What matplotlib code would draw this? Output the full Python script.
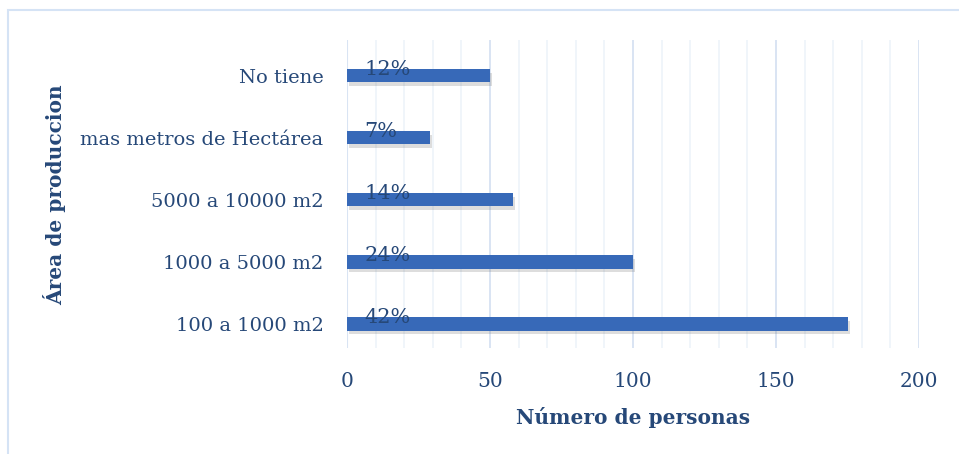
import matplotlib.pyplot as plt
import matplotlib.patheffects as pe
from matplotlib.patches import Rectangle
import numpy as np

# data
categories = ['100 a 1000 m2', '1000 a 5000 m2', '5000 a 10000 m2',
              'mas metros de Hectárea', 'No tiene']
personas = [175, 100, 58, 29, 50]
porcentajes = ['42%', '24%', '14%', '7%', '12%']
xticks = [0, 50, 100, 150, 200]

textColor = '#264878'
barColor = '#3769B8'

plt.rcParams['font.family'] = ['DejaVu Serif']

fig = plt.figure(figsize=(9.59, 4.54), dpi=100)
ax = fig.add_axes([347/959, 1-348/454, 572/959, 308/454])

# outer frame of the chart area (runs off the right and bottom edges)
fig.patches.append(Rectangle((8/959, -0.2), 1.2, 1.2-10/454, transform=fig.transFigure,
                             fill=False, edgecolor='#D5E3F5', linewidth=1.5))

ypos = np.arange(len(categories))
bars = ax.barh(ypos, personas, height=0.21, color=barColor, zorder=3)
for b in bars:
    b.set_path_effects([pe.SimplePatchShadow(offset=(1.5, -2.5), shadow_rgbFace='#666666', alpha=0.22),
                        pe.Normal()])

# percentage labels sit on the top edge of each bar
for y, p in zip(ypos, porcentajes):
    ax.text(6, y - 0.05, p, ha='left', va='bottom', fontsize=15, color=textColor, zorder=4)

ax.set_xlim(0, 200)
ax.set_ylim(-0.387, 4.58)
ax.set_xticks(xticks)
ax.set_xticks(np.arange(0, 201, 10), minor=True)
ax.set_yticks(ypos)
ax.set_yticklabels(categories)
ax.grid(axis='x', which='minor', color='#EEF3FA', linewidth=1.2, zorder=0)
ax.grid(axis='x', which='major', color='#D9E4F3', linewidth=1.4, zorder=0)
ax.axvline(0, color='#D9E4F3', linewidth=1.5, zorder=1)

for s in ax.spines.values():
    s.set_visible(False)
ax.tick_params(axis='both', which='both', length=0, labelsize=14.5, labelcolor=textColor)
ax.tick_params(axis='y', labelsize=14, pad=17)
ax.tick_params(axis='x', pad=17)

ax.set_xlabel('Número de personas', fontsize=14.5, fontweight='bold', color=textColor, labelpad=12)
fig.text(55/959, 1-195/454, 'Área de produccion', rotation=90, ha='center', va='center',
         fontsize=14.5, fontweight='bold', color=textColor)

fig.savefig('out.png', dpi=100)
